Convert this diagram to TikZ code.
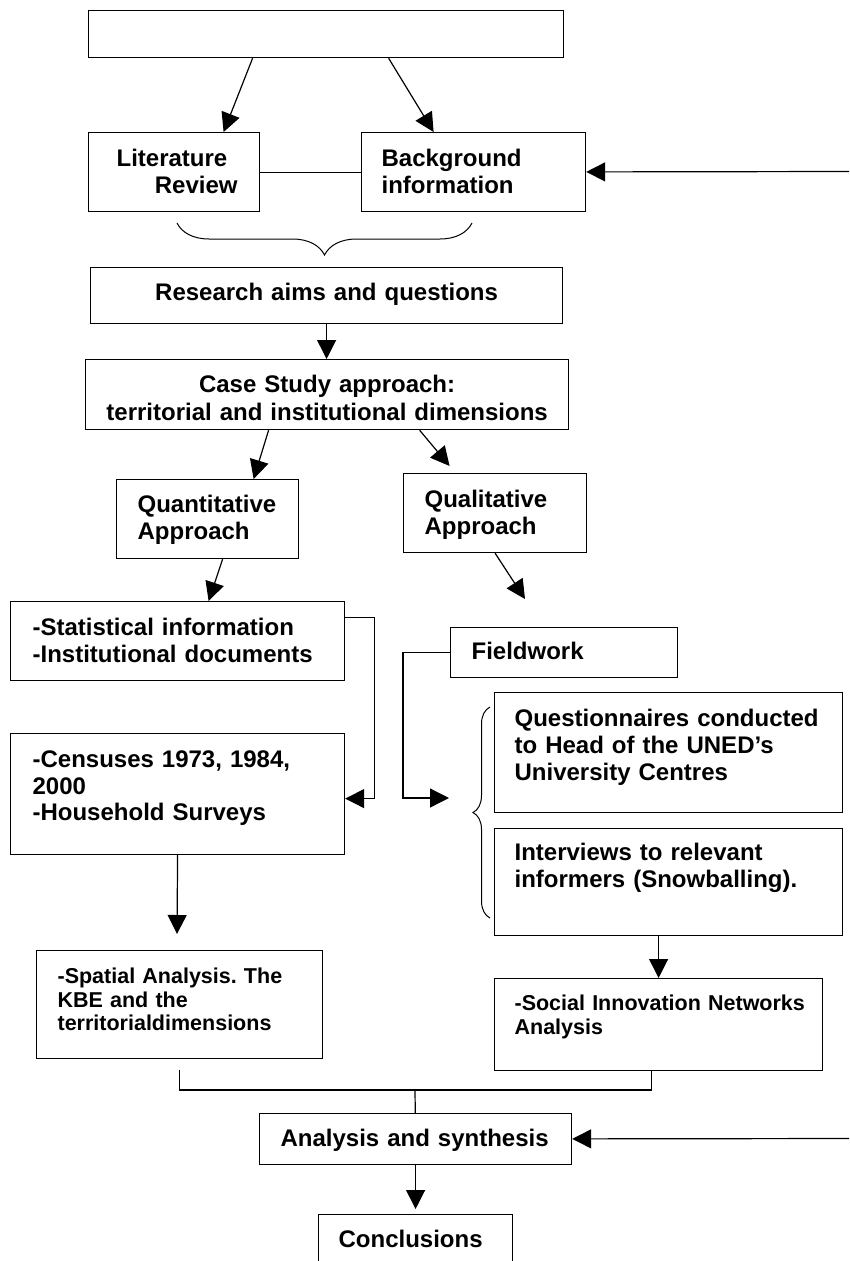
\documentclass[tikz,border=0pt]{standalone}
\usepackage{fontspec}
\setmainfont{Liberation Sans}
\usepackage{tikz}
\usetikzlibrary{arrows.meta, decorations.pathreplacing}
\hyphenpenalty=10000
\exhyphenpenalty=10000
\frenchspacing

\begin{document}
\begin{tikzpicture}[
	x=1pt, y=-1pt,
	box/.style={draw, line width=1.2pt, rectangle, anchor=north west, inner ysep=0pt, inner xsep=21pt, align=left, font=\bfseries\fontsize{24pt}{26.5pt}\selectfont, text height=34pt},
	small box/.style={box, font=\bfseries\fontsize{21.5pt}{23.5pt}\selectfont},
	arr/.style={line width=1.2pt, -{Triangle[length=19pt, width=19pt]}},
	link/.style={line width=1.2pt},
	curly/.style={line width=1pt, decorate, decoration={brace, amplitude=#1}}
	]
	
	\useasboundingbox (0,0) rectangle (849,1261);
	\clip (0,0) rectangle (849,1261);
	
	% --- TOP: sources ---
	\node[draw, line width=1.2pt, anchor=north west, minimum width=475pt, minimum height=47pt] (top) at (88,10) {};
	\node[box, inner xsep=22pt, text width=127pt, text depth=45pt] (lit) at (88,132) {\hspace*{6pt}Literature\\\hspace*{\fill}Review};
	\node[box, inner xsep=20pt, text width=184pt, text depth=45pt] (bg) at (361,132) {Background\\information};
	\coordinate (bgin) at (849,171.5);
	
	\draw[arr] ([xshift=-73.5pt]top.south) -- ([xshift=49.5pt]lit.north);
	\draw[arr] ([xshift=62.5pt]top.south) -- ([xshift=-40pt]bg.north);
	\draw[link] (lit) -- (bg);
	\draw[arr] (bgin) -- (bg);
	
	% brace under both boxes
	\draw[curly=32pt, decoration={mirror}] (177,223) -- (472,223);
	
	% --- AIMS and CASE STUDY ---
	\node[box, align=center, text width=430pt, text height=33pt, text depth=23pt] (aims) at (90,267) {Research aims and questions};
	\node[box, align=center, inner xsep=10pt, text width=463pt, text height=33pt, text depth=37pt, font=\bfseries\fontsize{24pt}{28pt}\selectfont] (case) at (85,359) {Case Study approach:\\territorial and institutional dimensions};
	\draw[arr] (aims.south) -- (aims.south |- case.north);
	
	% --- LEFT: Quantitative branch ---
	\node[box, text width=140pt, text height=33pt, text depth=46pt] (quan) at (116,479) {Quantitative\\Approach};
	\node[box, inner xsep=22pt, text width=290pt, text depth=45pt] (stat) at (10,601) {-Statistical information\\-Institutional documents};
	\node[box, inner xsep=22pt, text width=290pt, text depth=87pt] (cens) at (10,733) {-Censuses 1973, 1984,\\2000\\-Household Surveys};
	\node[small box, text width=244pt, text height=33pt, text depth=75pt] (spat) at (36,950) {-Spatial Analysis. The\\KBE and the\\territorialdimensions};
	\coordinate (spatin) at (177,934);
	
	\draw[arr] ([xshift=-58.5pt]case.south) -- ([xshift=46pt]quan.north);
	\draw[arr] ([xshift=15pt]quan.south) -- ([xshift=31pt]stat.north);
	\draw[arr] ([yshift=23.5pt]stat.east) -- ++(29,0) |- ([yshift=-4.5pt]cens.east);
	\draw[arr] (cens.south) -- (spatin);
	
	% --- RIGHT: Qualitative branch ---
	\node[box, text width=141pt, text depth=45pt] (qual) at (403,473) {Qualitative\\Approach};
	\node[box, text width=185pt, text height=32pt, text depth=18pt] (field) at (450,627) {Fieldwork};
	\node[box, inner xsep=20pt, text width=308pt, text depth=86pt, font=\bfseries\fontsize{24pt}{27pt}\selectfont] (quest) at (494,692) {\mbox{Questionnaires conducted}\\to Head of the UNED’s\\University Centres};
	\node[box, inner xsep=20pt, text width=308pt, text height=32pt, text depth=75pt, font=\bfseries\fontsize{24pt}{27pt}\selectfont] (inter) at (494,828) {Interviews to relevant\\informers (Snowballing).};
	\node[small box, inner xsep=20pt, text width=288pt, text height=32pt, text depth=60pt, font=\bfseries\fontsize{21.5pt}{24pt}\selectfont] (soc) at (494,978) {\mbox{-Social Innovation Networks}\\Analysis};
	\coordinate (qualend) at (525,599);
	\coordinate (questin) at (449,798);
	
	\draw[arr] ([xshift=92.5pt]case.south) -- ([xshift=-45.5pt, yshift=7pt]qual.north);
	\draw[arr] (qual.south) -- (qualend);
	\draw[arr] (field.west) -- ++(-47,0) |- (questin);
	\draw[curly=17pt] (490,918) -- (490,707);
	\draw[arr] (inter.south -| soc.north) -- (soc.north);
	
	% --- BOTTOM: synthesis ---
	\node[box, text width=270pt, text height=33pt, text depth=18pt] (ana) at (259,1113) {Analysis and synthesis};
	\node[box, inner xsep=20pt, text width=154pt, text height=33pt, text depth=60pt] (concl) at (318,1214) {Conclusions};
	\coordinate (merge) at (415,1090);
	\coordinate (anain) at (849,1138.5);
	
	\draw[link] ([yshift=-11pt]spat.south) |- (merge) -| ([xshift=-7pt]soc.south);
	\draw[link] (merge) -- (ana);
	\draw[arr] (anain) -- (ana);
	\draw[arr] (ana) -- ([yshift=5pt]concl.north);
	
\end{tikzpicture}
\end{document}
